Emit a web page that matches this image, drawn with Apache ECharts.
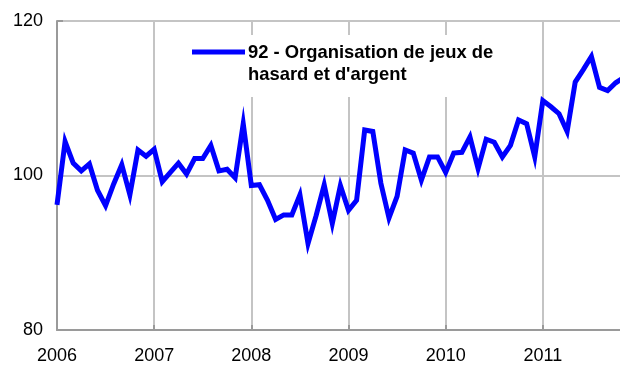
<!DOCTYPE html>
<html>
<head>
<meta charset="utf-8">
<script src="https://cdn.jsdelivr.net/npm/echarts@6/dist/echarts.min.js"></script>
<style>
  html, body { margin: 0; padding: 0; background: #fff; }
  #chart { width: 620px; height: 365px; }
</style>
</head>
<body>
<div id="chart"></div>
<script>
// Monthly index, January 2006 onwards
const startYear = 2006;
const values2006 = [96.2, 104.4, 101.6, 100.6, 101.5, 98.1, 96.1, 98.9, 101.4, 97.5, 103.3, 102.5];
const values2007 = [103.4, 99.2, 100.4, 101.6, 100.2, 102.2, 102.2, 103.9, 100.6, 100.8, 99.7, 106.7];
const values2008 = [98.7, 98.8, 96.8, 94.3, 94.9, 94.9, 97.5, 91.2, 94.8, 98.8, 93.8, 98.7];
const values2009 = [95.5, 96.8, 105.9, 105.7, 99.0, 94.5, 97.3, 103.3, 102.9, 99.4, 102.4, 102.4];
const values2010 = [100.4, 102.9, 103.0, 105.0, 100.9, 104.7, 104.3, 102.4, 103.9, 107.2, 106.7, 102.4];
const values2011 = [109.7, 108.9, 108.0, 105.7, 112.1, 113.7, 115.4, 111.4, 111.0, 112.0, 112.7];
const yTicks = [80, 100, 120];
const seriesName = "92 - Organisation de jeux de\nhasard et d'argent";

const allValues = [].concat(values2006, values2007, values2008, values2009, values2010, values2011);
const points = allValues.map((v, i) => [i, v]);

const chart = echarts.init(document.getElementById('chart'), null, { renderer: 'canvas' });
const font = '"Liberation Sans", Arial, sans-serif';

chart.setOption({
  animation: false,
  backgroundColor: '#ffffff',
  // six full years; the last one runs past the right edge of the canvas
  grid: {
    left: 57, top: 21, bottom: 35, width: 583,
    containLabel: false, outerBoundsMode: 'none'
  },
  xAxis: {
    type: 'value',
    min: 0,
    max: 72,
    interval: 12,
    axisLine: { show: true, onZero: false, lineStyle: { color: '#9a9a9a', width: 2 } },
    axisTick: { show: true, inside: true, length: 5, lineStyle: { color: '#9a9a9a', width: 2 } },
    splitLine: { show: true, lineStyle: { color: '#c4c4c4', width: 2 } },
    axisLabel: {
      margin: 17,
      color: '#000',
      fontFamily: font,
      fontSize: 18,
      formatter: v => (v < 72 ? String(startYear + v / 12) : '')
    }
  },
  yAxis: {
    type: 'value',
    min: yTicks[0],
    max: yTicks[yTicks.length - 1],
    interval: 20,
    axisLine: { show: true, lineStyle: { color: '#9a9a9a', width: 2 } },
    axisTick: { show: true, inside: true, length: 6, lineStyle: { color: '#9a9a9a', width: 2 } },
    splitLine: { show: true, lineStyle: { color: '#c4c4c4', width: 2 } },
    axisLabel: { margin: 14, color: '#000', fontFamily: font, fontSize: 18 }
  },
  series: [{
    name: seriesName,
    type: 'line',
    data: points,
    showSymbol: false,
    clip: true,
    lineStyle: { color: '#0000ff', width: 5, join: 'miter' }
  }],
  graphic: [
    {
      // legend box background
      type: 'rect',
      shape: { x: 182, y: 35, width: 322, height: 62 },
      style: { fill: '#ffffff' },
      z: 50
    },
    {
      type: 'line',
      shape: { x1: 192, y1: 52, x2: 245, y2: 52 },
      style: { stroke: '#0000ff', lineWidth: 5 },
      z: 51
    },
    {
      type: 'text',
      left: 248,
      top: 42,
      z: 51,
      style: {
        text: seriesName,
        fill: '#000',
        font: 'bold 18.4px "Liberation Sans", Arial, sans-serif',
        lineHeight: 22
      }
    }
  ]
});
</script>
</body>
</html>
